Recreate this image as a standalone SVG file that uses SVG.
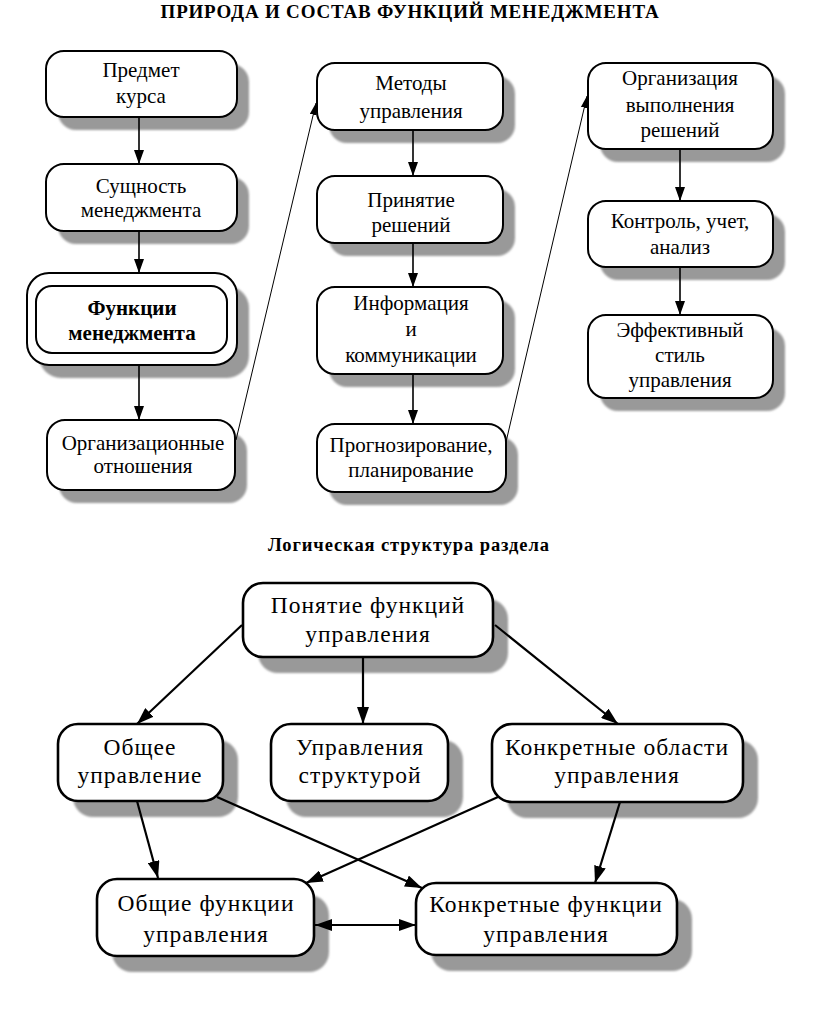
<svg xmlns="http://www.w3.org/2000/svg" width="816" height="1023" viewBox="0 0 816 1023">
<defs>
<style>
.t{font-family:"Liberation Serif","Times New Roman",serif;fill:#000;text-anchor:middle}
.ts{font-size:21px}
.tb{font-size:23.5px;letter-spacing:1px}
.h{font-weight:bold}
.box{fill:#fff;stroke:#000;stroke-width:2}
.boxb{fill:#fff;stroke:#000;stroke-width:2.6}
.sh{fill:#999;filter:url(#blur)}
.ln{stroke:#000;stroke-width:1.6;fill:none}
.lnb{stroke:#000;stroke-width:2.2;fill:none}
.lnt{stroke:#000;stroke-width:1;fill:none}
</style>
<filter id="blur" x="-10%" y="-10%" width="120%" height="120%"><feGaussianBlur stdDeviation="1"/></filter>
<marker id="as" markerUnits="userSpaceOnUse" viewBox="0 0 14 10" refX="14" refY="5" markerWidth="14" markerHeight="10" orient="auto"><path d="M0,0 L14,5 L0,10 z" fill="#000"/></marker>
<marker id="ab" markerUnits="userSpaceOnUse" viewBox="0 0 17 12" refX="17" refY="6" markerWidth="17" markerHeight="12" orient="auto-start-reverse"><path d="M0,0 L17,6 L0,12 z" fill="#000"/></marker>
<marker id="at" markerUnits="userSpaceOnUse" viewBox="0 0 12 7" refX="12" refY="3.5" markerWidth="12" markerHeight="7" orient="auto"><path d="M0,0 L12,3.5 L0,7 z" fill="#000"/></marker>
</defs>
<rect width="816" height="1023" fill="#fff"/>
<text class="t h" x="410" y="18" font-size="19" letter-spacing="0.8">ПРИРОДА И СОСТАВ ФУНКЦИЙ МЕНЕДЖМЕНТА</text>
<text class="t h" x="409" y="551" font-size="18.5" letter-spacing="0.9">Логическая структура раздела</text>

<g id="n1"><rect class="sh" x="58" y="64" width="191" height="66" rx="18"/><rect class="box" x="46" y="51" width="191" height="66" rx="18"/><text class="t ts" x="141" y="77">Предмет</text><text class="t ts" x="141" y="103">курса</text></g>
<g id="n2"><rect class="sh" x="58" y="177" width="191" height="67" rx="18"/><rect class="box" x="46" y="164" width="191" height="67" rx="18"/><text class="t ts" x="141" y="193">Сущность</text><text class="t ts" x="141" y="217">менеджмента</text></g>
<g id="n3"><rect class="sh" x="39" y="286" width="210" height="92" rx="22"/><rect class="box" x="27" y="273" width="210" height="92" rx="22"/><rect class="box" x="36" y="286" width="191" height="67" rx="16"/><text class="t ts h" x="132" y="315">Функции</text><text class="t ts h" x="132" y="340">менеджмента</text></g>
<g id="n4"><rect class="sh" x="59" y="433" width="188" height="70" rx="18"/><rect class="box" x="47" y="420" width="188" height="70" rx="18"/><text class="t ts" x="143" y="450">Организационные</text><text class="t ts" x="143" y="473">отношения</text></g>

<g id="m1"><rect class="sh" x="329" y="76" width="186" height="67" rx="18"/><rect class="box" x="317" y="63" width="186" height="67" rx="18"/><text class="t ts" x="411" y="90">Методы</text><text class="t ts" x="411" y="118">управления</text></g>
<g id="m2"><rect class="sh" x="329" y="189" width="186" height="67" rx="18"/><rect class="box" x="317" y="176" width="186" height="67" rx="18"/><text class="t ts" x="411" y="207">Принятие</text><text class="t ts" x="411" y="232">решений</text></g>
<g id="m3"><rect class="sh" x="329" y="300" width="186" height="87" rx="18"/><rect class="box" x="317" y="287" width="186" height="87" rx="18"/><text class="t ts" x="411" y="310">Информация</text><text class="t ts" x="411" y="336">и</text><text class="t ts" x="411" y="362">коммуникации</text></g>
<g id="m4"><rect class="sh" x="329" y="437" width="189" height="68" rx="18"/><rect class="box" x="317" y="424" width="189" height="68" rx="18"/><text class="t ts" x="411" y="452">Прогнозирование,</text><text class="t ts" x="411" y="477">планирование</text></g>

<g id="r1"><rect class="sh" x="600" y="76" width="185" height="86" rx="18"/><rect class="box" x="588" y="63" width="185" height="86" rx="18"/><text class="t ts" x="680" y="85">Организация</text><text class="t ts" x="680" y="112">выполнения</text><text class="t ts" x="680" y="137">решений</text></g>
<g id="r2"><rect class="sh" x="600" y="214" width="185" height="66" rx="18"/><rect class="box" x="588" y="201" width="185" height="66" rx="18"/><text class="t ts" x="680" y="228">Контроль, учет,</text><text class="t ts" x="680" y="254">анализ</text></g>
<g id="r3"><rect class="sh" x="600" y="328" width="185" height="83" rx="18"/><rect class="box" x="588" y="315" width="185" height="83" rx="18"/><text class="t ts" x="680" y="337">Эффективный</text><text class="t ts" x="680" y="362">стиль</text><text class="t ts" x="680" y="387">управления</text></g>

<g id="b1"><rect class="sh" x="258" y="599" width="250" height="74" rx="20"/><rect class="boxb" x="243" y="583" width="250" height="74" rx="20"/><text class="t tb" x="368" y="613">Понятие функций</text><text class="t tb" x="368" y="642">управления</text></g>
<g id="b2"><rect class="sh" x="73" y="740" width="165" height="77" rx="20"/><rect class="boxb" x="58" y="724" width="165" height="77" rx="20"/><text class="t tb" x="140" y="755">Общее</text><text class="t tb" x="140" y="783">управление</text></g>
<g id="b3"><rect class="sh" x="286" y="740" width="177" height="77" rx="20"/><rect class="boxb" x="271" y="724" width="177" height="77" rx="20"/><text class="t tb" x="360" y="755">Управления</text><text class="t tb" x="360" y="783">структурой</text></g>
<g id="b4"><rect class="sh" x="507" y="740" width="251" height="78" rx="20"/><rect class="boxb" x="492" y="724" width="251" height="78" rx="20"/><text class="t tb" x="617" y="755">Конкретные области</text><text class="t tb" x="617" y="783">управления</text></g>
<g id="b5"><rect class="sh" x="112" y="895" width="217" height="77" rx="20"/><rect class="boxb" x="97" y="879" width="217" height="77" rx="20"/><text class="t tb" x="206" y="911">Общие функции</text><text class="t tb" x="206" y="942">управления</text></g>
<g id="b6"><rect class="sh" x="431" y="899" width="261" height="72" rx="20"/><rect class="boxb" x="416" y="883" width="261" height="72" rx="20"/><text class="t tb" x="546" y="912">Конкретные функции</text><text class="t tb" x="546" y="942">управления</text></g>

<g id="connectors">
<line class="ln" x1="139" y1="117" x2="139" y2="164" marker-end="url(#as)"/>
<line class="ln" x1="139" y1="231" x2="139" y2="273" marker-end="url(#as)"/>
<line class="ln" x1="139" y1="365" x2="139" y2="420" marker-end="url(#as)"/>
<line class="ln" x1="413" y1="130" x2="413" y2="176" marker-end="url(#as)"/>
<line class="ln" x1="413" y1="243" x2="413" y2="287" marker-end="url(#as)"/>
<line class="ln" x1="413" y1="374" x2="413" y2="424" marker-end="url(#as)"/>
<line class="ln" x1="680" y1="149" x2="680" y2="201" marker-end="url(#as)"/>
<line class="ln" x1="680" y1="267" x2="680" y2="315" marker-end="url(#as)"/>
<line class="lnt" x1="236" y1="440" x2="316" y2="103" marker-end="url(#at)"/>
<line class="lnt" x1="506" y1="442" x2="587" y2="96" marker-end="url(#at)"/>

<line class="lnb" x1="242" y1="625" x2="137" y2="724" marker-end="url(#ab)"/>
<line class="lnb" x1="363" y1="657" x2="363" y2="724" marker-end="url(#ab)"/>
<line class="lnb" x1="495" y1="625" x2="618" y2="724" marker-end="url(#ab)"/>
<line class="lnb" x1="137" y1="801" x2="158" y2="878" marker-end="url(#ab)"/>
<line class="lnb" x1="217" y1="797" x2="422" y2="888" marker-end="url(#ab)"/>
<line class="lnb" x1="498" y1="797" x2="306" y2="883" marker-end="url(#ab)"/>
<line class="lnb" x1="620" y1="802" x2="595" y2="883" marker-end="url(#ab)"/>
<line class="lnb" x1="315" y1="925" x2="416" y2="925" marker-start="url(#ab)" marker-end="url(#ab)"/>
</g>
</svg>
